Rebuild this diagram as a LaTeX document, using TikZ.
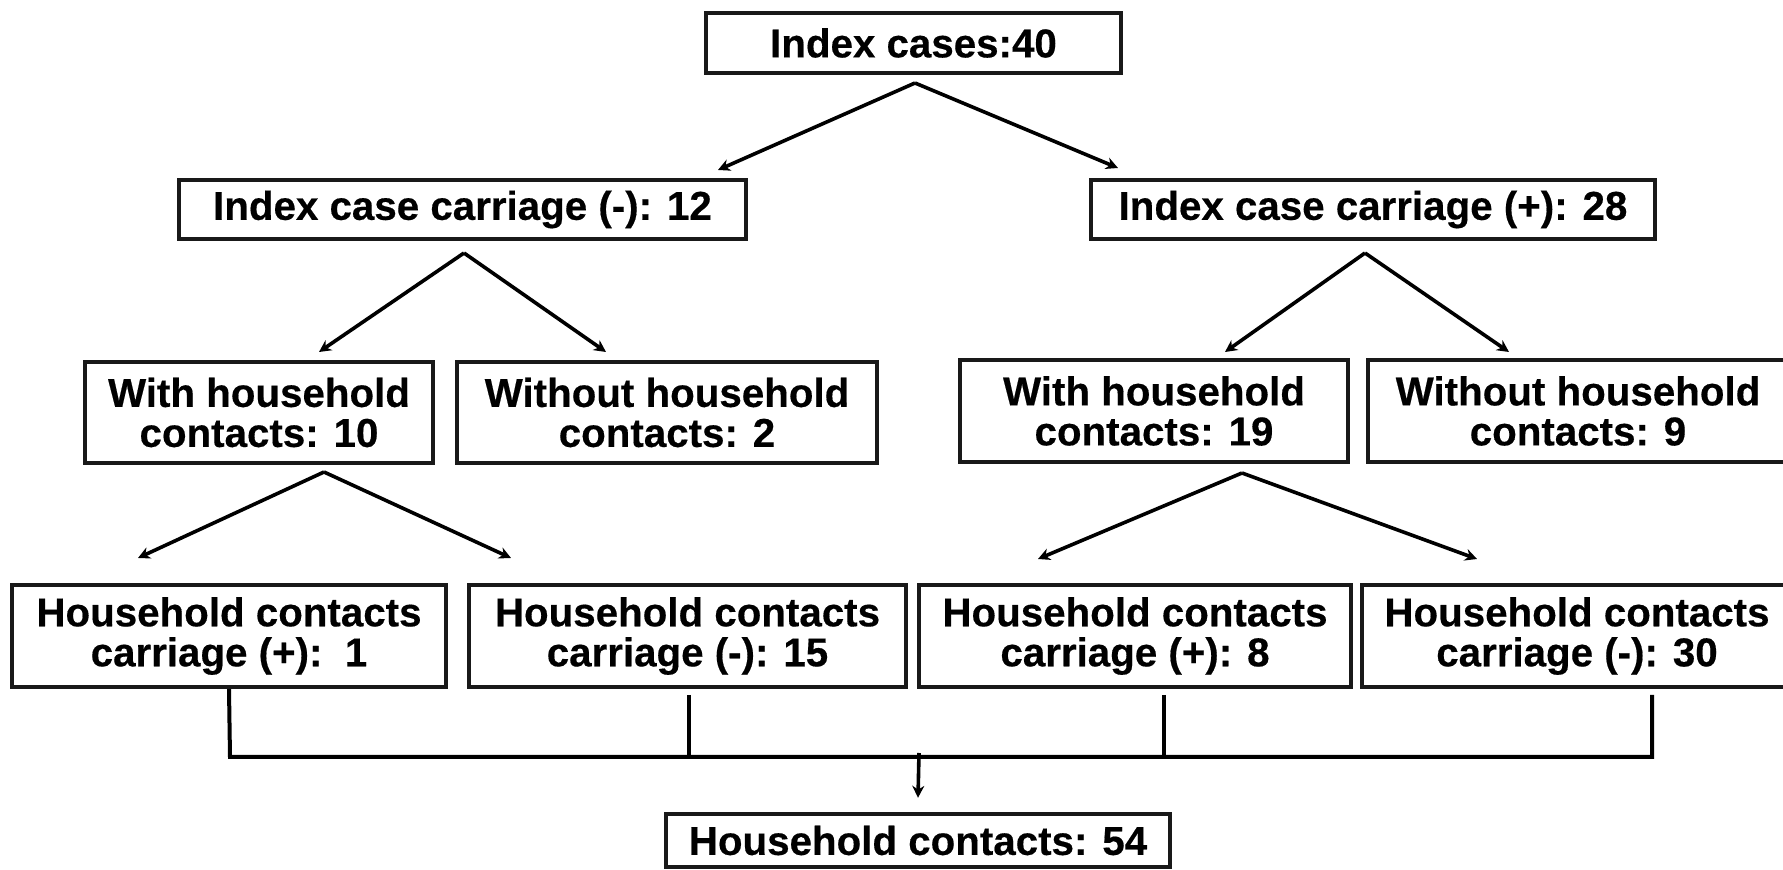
\documentclass[tikz,border=0pt]{standalone}
\usepackage{fontspec}
\setmainfont{Liberation Sans}[BoldFeatures={FakeBold=0.4}]
\usetikzlibrary{arrows.meta,calc}
\begin{document}
\begin{tikzpicture}[x=0.5pt,y=-0.5pt,
  box/.style={draw=black!90,line width=2.2pt,fill=white,inner sep=0pt,align=center,
    font=\fontsize{20.15}{20}\selectfont\bfseries},
  arr/.style={line width=1.8pt,-{Stealth[length=6pt,width=6pt]}},
  conn/.style={line width=2pt}]
\clip (0,0) rectangle (1783,870);
\useasboundingbox (0,0) rectangle (1783,870);
% nodes
\node[box,minimum width=207.75pt,minimum height=30pt] (top) at (913.5,43) {Index cases:40};
\node[box,minimum width=283.5pt,minimum height=29.5pt] (neg) at (462.5,209.5) {Index case carriage (-): 12};
\node[box,minimum width=282pt,minimum height=29.5pt] (pos) at (1373,209.5) {Index case carriage (+): 28};
\node[box,minimum width=174pt,minimum height=50.5pt] (w10) at (259,412.5) {With household\\contacts: 10};
\node[box,minimum width=209.75pt,minimum height=50.5pt] (wo2) at (667,412.5) {Without household\\contacts: 2};
\node[box,minimum width=194pt,minimum height=51pt] (w19) at (1154,411) {With household\\contacts: 19};
\node[box,minimum width=210pt,minimum height=51pt] (wo9) at (1578,411) {Without household\\contacts: 9};
\node[box,minimum width=217pt,minimum height=51pt] (hc1) at (229,636) {Household contacts\\carriage (+):\ \ 1};
\node[box,minimum width=218.5pt,minimum height=51pt] (hc15) at (687.5,636) {Household contacts\\carriage (-): 15};
\node[box,minimum width=216pt,minimum height=51pt] (hc8) at (1135,636) {Household contacts\\carriage (+): 8};
\node[box,minimum width=215pt,minimum height=51pt] (hc30) at (1577,636) {Household contacts\\carriage (-): 30};
\node[box,minimum width=252pt,minimum height=26.5pt] (tot) at (918,840.5) {Household contacts: 54};
% arrow coordinates
\coordinate (a0) at (915,83);
\coordinate (t0l) at (718,170);
\coordinate (t0r) at (1118,168);
\coordinate (a1) at (464,253);
\coordinate (t1l) at (319,352);
\coordinate (t1r) at (606,352);
\coordinate (a2) at (1365,253);
\coordinate (t2l) at (1225,352);
\coordinate (t2r) at (1509,352);
\coordinate (a3) at (324,472);
\coordinate (t3l) at (138,558);
\coordinate (t3r) at (511,558);
\coordinate (a4) at (1242,473);
\coordinate (t4l) at (1038,559);
\coordinate (t4r) at (1477,559);
\draw[arr] (a0) -- (t0l);
\draw[arr] (a0) -- (t0r);
\draw[arr] (a1) -- (t1l);
\draw[arr] (a1) -- (t1r);
\draw[arr] (a2) -- (t2l);
\draw[arr] (a2) -- (t2r);
\draw[arr] (a3) -- (t3l);
\draw[arr] (a3) -- (t3r);
\draw[arr] (a4) -- (t4l);
\draw[arr] (a4) -- (t4r);
% bottom bus
\coordinate (b1) at (230,757);
\coordinate (b4) at (1652,757);
\coordinate (v15) at (689,695);
\coordinate (v8) at (1164,695);
\coordinate (v30) at (1652,695);
\coordinate (d0) at (919,753);
\draw[conn] (hc1.south) -- (b1) -- (b4) -- (v30);
\draw[conn] (v15) -- (v15 |- b1);
\draw[conn] (v8) -- (v8 |- b1);
\draw[arr] (d0) -- ([yshift=7pt]tot.north);
\end{tikzpicture}
\end{document}
